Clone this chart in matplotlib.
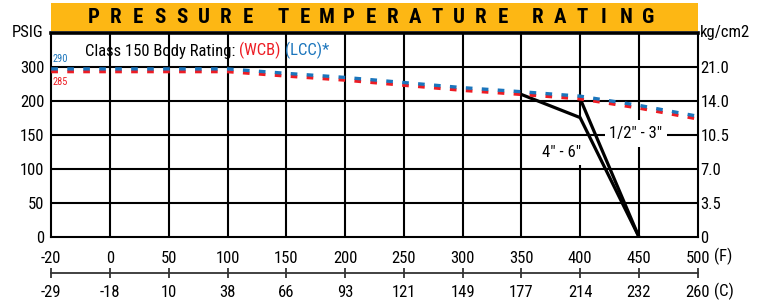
import numpy as np
import matplotlib
matplotlib.use('Agg')
import matplotlib.pyplot as plt
from matplotlib.patches import Rectangle

# ---------------- data ----------------
temps_f = [-20, 0, 50, 100, 150, 200, 250, 300, 350, 400, 450, 500]
temps_c_labels = ['-29', '-18', '10', '38', '66', '93', '121', '149', '177', '214', '232', '260']
wcb_psig = [285, 285, 285, 285, 272, 260, 245, 230, 218, 205, 189, 173]
lcc_psig = [293, 293, 293, 293, 280, 268, 253, 238, 226, 213, 193, 177]
psig_ticks = [0, 50, 100, 150, 200, 300]
kg_labels = ['0', '3.5', '7.0', '10.5', '14.0', '21.0']
small_temps = [400, 450]          # 1/2" - 3"
small_psig = [206, 0]
large_temps = [350, 400, 450]     # 4" - 6"
large_psig = [218, 175, 0]

RED = '#ED1C24'
BLUE = '#1B75BC'
YELLOW = '#FDB714'

FAM = ['Liberation Sans Narrow', 'Roboto Condensed', 'DejaVu Sans']
plt.rcParams['font.family'] = FAM
plt.rcParams['font.stretch'] = 'condensed'
plt.rcParams['lines.scale_dashes'] = False


def fx(t):
    t = np.asarray(t, float)
    return np.where(t < 0, t / 20.0, t / 50.0)


def fx_inv(p):
    p = np.asarray(p, float)
    return np.where(p < 0, p * 20.0, p * 50.0)


def fy(v):
    v = np.asarray(v, float)
    return np.where(v <= 200, v / 50.0, 4 + (v - 200) / 100.0)


def fy_inv(p):
    p = np.asarray(p, float)
    return np.where(p <= 4, p * 50.0, 200 + (p - 4) * 100.0)


W, H = 762, 304
fig = plt.figure(figsize=(W / 100, H / 100), dpi=100)
L, R, T, B = 51.3, 697.6, 32.5, 236.7


def px(x, y):
    return x / W, 1 - y / H


ax = fig.add_axes([L / W, 1 - B / H, (R - L) / W, (B - T) / H])
ax.set_xscale('function', functions=(fx, fx_inv))
ax.set_yscale('function', functions=(fy, fy_inv))
ax.set_xlim(temps_f[0], temps_f[-1])
ax.set_ylim(0, 400)

# grid lines (with gaps behind labels)
GL = dict(color='black', lw=1.5, zorder=1)
for v in psig_ticks[1:]:
    if v == 150:
        ax.hlines(v, temps_f[0], 421, **GL)
        ax.hlines(v, 474, temps_f[-1], **GL)
    else:
        ax.hlines(v, temps_f[0], temps_f[-1], **GL)
for t in temps_f[1:-1]:
    if t == 400:
        ax.vlines(t, 0, 105, **GL)
        ax.vlines(t, 175, 400, **GL)
    elif t == 450:
        ax.vlines(t, 0, 132, **GL)
        ax.vlines(t, 171, 400, **GL)
    else:
        ax.vlines(t, 0, 400, **GL)

for s in ax.spines.values():
    s.set_linewidth(1.5)
ax.spines['top'].set_linewidth(2.6)

# rating curves
ax.plot(large_temps, large_psig, color='black', lw=2.3, zorder=3, solid_joinstyle='miter')
ax.plot(small_temps, small_psig, color='black', lw=2.3, zorder=3, solid_joinstyle='miter')
ax.plot(temps_f, wcb_psig, color=RED, lw=2.4, dashes=(4.8, 6.7), dash_capstyle='butt', zorder=4)
ax.plot(temps_f, lcc_psig, color=BLUE, lw=2.4, dashes=(4.8, 6.7), dash_capstyle='butt', zorder=4)

ax.text(447, 151, '1/2" - 3"', ha='center', va='center', fontsize=12, zorder=5)
ax.text(384, 124, '4" - 6"', ha='center', va='center', fontsize=12, zorder=5)

# ticks
ax.set_xticks(temps_f)
ax.set_xticklabels([str(t) for t in temps_f])
ax.set_yticks(psig_ticks)
ax.set_yticklabels([str(v) for v in psig_ticks])
ax.tick_params(length=0, labelsize=12)
ax.tick_params(axis='x', pad=10)
ax.tick_params(axis='y', pad=5)

ax2 = ax.twinx()
ax2.set_yscale('function', functions=(fy, fy_inv))
ax2.set_ylim(0, 400)
ax2.set_yticks(psig_ticks)
ax2.set_yticklabels(kg_labels)
ax2.tick_params(length=0, labelsize=12, pad=2)
for s in ax2.spines.values():
    s.set_visible(False)

# celsius axis
axc = fig.add_axes([L / W, 1 - 273.3 / H, (R - L) / W, 0.0001])
axc.set_xscale('function', functions=(fx, fx_inv))
axc.set_xlim(temps_f[0], temps_f[-1])
axc.set_facecolor('none')
for k in ['top', 'left', 'right']:
    axc.spines[k].set_visible(False)
axc.spines['bottom'].set_color('#333333')
axc.spines['bottom'].set_linewidth(1.3)
axc.set_yticks([])
axc.set_xticks(temps_f)
axc.set_xticklabels(temps_c_labels)
axc.tick_params(axis='x', direction='inout', length=7, width=1.3, color='#333333',
                labelsize=12, pad=5)

# banner
fig.add_artist(Rectangle(px(L, 31), (R - L) / W, 28 / H, transform=fig.transFigure,
                         facecolor=YELLOW, edgecolor='none'))
title = 'PRESSURE TEMPERATURE RATING'
xcur = 94.0
for ch in title:
    if ch == ' ':
        xcur += 13.0
        continue
    fig.text(*px(xcur, 17.5), ch, ha='center', va='center', fontsize=15,
             fontweight='bold')
    xcur += 22.0

# axis unit labels
fig.text(*px(43, 32.5), 'PSIG', ha='right', va='center', fontsize=12)
fig.text(*px(700, 32.5), 'kg/cm2', ha='left', va='center', fontsize=12)
fig.text(*px(714, 256), '(F)', ha='left', va='center', fontsize=12)
fig.text(*px(714, 291.7), '(C)', ha='left', va='center', fontsize=12)

# legend text
t1 = fig.text(*px(85, 51.7), 'Class 150 Body Rating: ', ha='left', va='center', fontsize=12)
t2 = ax.annotate('(WCB) ', xy=(1, 0), xycoords=t1, va='bottom', ha='left',
                 fontsize=12, color=RED)
t3 = ax.annotate('(LCC)*', xy=(1, 0), xycoords=t2, va='bottom', ha='left',
                 fontsize=12, color=BLUE)
fig.text(*px(53, 59), '290', ha='left', va='center', fontsize=7.5, color=BLUE)
fig.text(*px(53, 82), '285', ha='left', va='center', fontsize=7.5, color=RED)

fig.savefig('out.png', dpi=100)
